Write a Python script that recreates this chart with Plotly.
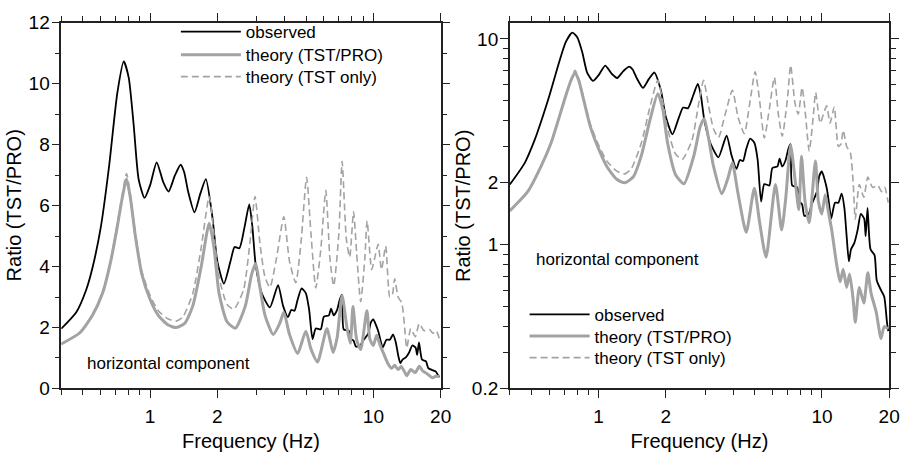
import math
import plotly.graph_objects as go

# ---------------- data ----------------
obs_f = [0.40, 0.467, 0.517, 0.552, 0.602, 0.655, 0.713, 0.762, 0.802, 0.844, 0.888, 0.944,
         1.0, 1.07, 1.145, 1.21, 1.29, 1.37, 1.42, 1.48, 1.58, 1.68, 1.777, 1.90, 2.0, 2.14,
         2.29, 2.39, 2.51, 2.65, 2.78, 2.87, 2.97, 3.16, 3.44, 3.74, 3.94, 4.14, 4.29, 4.43,
         4.58, 4.77, 4.98, 5.15, 5.34, 5.52, 5.81, 6.0, 6.32, 6.46, 6.64, 6.88, 7.07, 7.24,
         7.36, 7.75, 7.93, 8.15, 8.34, 8.72, 9.0, 9.49, 9.73, 9.99, 10.27, 10.52, 10.77, 11.0,
         11.44, 11.84, 12.25, 12.6, 12.9, 13.2, 13.5, 13.97, 14.45, 14.93, 15.45, 15.7, 16.0,
         16.5, 17.2, 17.6, 18.4, 19.0, 19.55, 19.8]
obs_v = [1.96, 2.5, 3.23, 3.96, 5.31, 7.29, 9.69, 10.73, 10.2, 8.65, 6.87, 6.25,
         6.67, 7.42, 6.77, 6.46, 6.98, 7.34, 7.1, 6.46, 5.78, 6.4, 6.87, 5.63, 4.17, 3.44,
         4.17, 4.64, 4.6, 5.31, 6.04, 5.31, 4.06, 3.13, 2.66, 3.39, 2.71, 2.34, 2.58, 2.55,
         2.92, 3.28, 3.13, 2.6, 1.62, 1.97, 1.94, 2.36, 2.4, 2.62, 2.4, 2.58, 2.92, 3.08,
         1.94, 1.9, 1.62, 1.57, 1.38, 1.41, 1.57, 1.81, 2.16, 2.27, 2.08, 1.87, 1.57, 1.34,
         1.6, 1.6, 1.77, 1.51, 1.1, 0.83, 0.95, 1.02, 1.18, 1.41, 1.34, 1.1, 1.51,
         0.95, 0.89, 0.67, 0.6, 0.56, 0.42, 0.38]

pro_f = [0.40, 0.483, 0.552, 0.612, 0.666, 0.713, 0.75, 0.784, 0.816, 0.859, 0.918, 1.0,
         1.088, 1.205, 1.31, 1.43, 1.553, 1.69, 1.84, 1.935, 2.036, 2.21, 2.41, 2.67, 2.85,
         2.97, 3.1, 3.27, 3.56, 3.81, 3.97, 4.21, 4.58, 4.98, 5.25, 5.62, 6.19, 6.6, 6.88,
         7.24, 7.63, 7.88, 8.1, 8.41, 8.77, 9.35, 9.64, 9.99, 10.34, 10.7, 11.06, 11.64,
         12.06, 12.45, 12.9, 13.3, 13.8, 14.1, 14.7, 15.4, 16.05, 16.6, 17.5, 18.4, 19.0, 19.8]
pro_v = [1.46, 1.82, 2.4, 3.12, 4.17, 5.31, 6.25, 6.87, 6.25, 5.0, 3.75, 2.92,
         2.4, 2.08, 2.0, 2.14, 2.71, 3.96, 5.42, 4.58, 3.12, 2.19, 1.98, 2.71, 3.75,
         4.1, 3.33, 2.4, 1.77, 2.14, 2.5, 1.77, 1.15, 1.88, 1.3, 0.87, 1.96, 1.18, 1.67,
         3.05, 1.94, 1.48, 2.69, 1.6, 1.28, 2.55, 1.62, 1.41, 1.75, 1.43, 1.18, 0.8,
         0.66, 0.76, 0.62, 0.72, 0.54, 0.42, 0.62, 0.52, 0.73, 0.58, 0.47, 0.35, 0.40, 0.39]

tst_f = [0.40, 0.483, 0.552, 0.612, 0.666, 0.713, 0.75, 0.784, 0.816, 0.859, 0.918, 1.0,
         1.088, 1.205, 1.31, 1.40, 1.553, 1.69, 1.84, 1.935, 2.036, 2.21, 2.37, 2.62, 2.80,
         2.95, 3.1, 3.27, 3.44, 3.68, 3.97, 4.21, 4.49, 4.74, 5.02, 5.25, 5.52, 5.81, 6.12,
         6.39, 6.64, 7.0, 7.24, 7.57, 7.83, 8.15, 8.41, 8.77, 9.15, 9.37, 9.82, 10.15, 10.5,
         10.87, 11.35, 11.84, 12.16, 12.45, 12.9, 13.4, 13.8, 14.1, 14.7, 15.4, 16.05, 16.85,
         17.8, 18.5, 19.1, 19.8]
tst_v = [1.46, 1.82, 2.42, 3.15, 4.2, 5.4, 6.35, 7.05, 6.35, 5.1, 3.85, 3.05,
         2.55, 2.28, 2.21, 2.34, 3.12, 4.58, 6.3, 5.0, 3.65, 2.76, 2.6, 3.23, 4.79,
         6.3, 4.79, 3.65, 3.32, 4.27, 5.63, 4.17, 3.47, 4.79, 6.93, 5.1, 3.3, 4.55, 6.5,
         4.24, 3.37, 5.07, 7.45, 4.88, 4.31, 5.8, 4.45, 2.85, 4.24, 5.5, 3.9, 4.3, 4.73,
         3.9, 4.67, 3.0, 3.08, 3.6, 3.0, 2.8, 2.0, 1.33, 1.96, 1.7, 2.13, 1.9,
         1.94, 1.81, 1.9, 1.6]

x_tickvals = [1, 2, 10, 20]
x_minor = [0.4, 0.5, 0.6, 0.7, 0.8, 0.9, 3, 4, 5, 6, 7, 8, 9]
yl_tickvals = [0, 2, 4, 6, 8, 10, 12]
yl_minor = [1, 3, 5, 7, 9, 11]
yr_tickvals = [0.2, 1, 2, 10]
yr_minor = [0.3, 0.4, 0.5, 0.6, 0.7, 0.8, 0.9, 3, 4, 5, 6, 7, 8, 9]

names = ["observed", "theory (TST/PRO)", "theory (TST only)"]
ytitle = "Ratio (TST/PRO)"
xtitle = "Frequency (Hz)"
panel_note = "horizontal component"

GRAY = "#a3a3a3"
FONT = "Liberation Sans"
W, H = 914, 457

fig = go.Figure()

def add_set(xa, ya, legs):
    fig.add_trace(go.Scatter(x=obs_f, y=obs_v, mode="lines", name=names[0],
                             line=dict(color="black", width=1.8, shape="spline", smoothing=0.6),
                             xaxis=xa, yaxis=ya, legend=legs[0]))
    fig.add_trace(go.Scatter(x=pro_f, y=pro_v, mode="lines", name=names[1],
                             line=dict(color=GRAY, width=3, shape="spline", smoothing=0.6),
                             xaxis=xa, yaxis=ya, legend=legs[1]))
    fig.add_trace(go.Scatter(x=tst_f, y=tst_v, mode="lines", name=names[2],
                             line=dict(color=GRAY, width=1.6, dash="7px,4px", shape="spline", smoothing=0.6),
                             xaxis=xa, yaxis=ya, legend=legs[2]))

add_set("x", "y", ["legend", "legend2", "legend3"])
add_set("x2", "y2", ["legend4", "legend5", "legend6"])

ydom = [(H - 396.7) / H, (H - 13.3) / H]

axis_common = dict(showline=True, linecolor="#222", linewidth=1.5, mirror="ticks",
                   ticks="outside", ticklen=8, tickwidth=1.3, tickcolor="#222",
                   showgrid=False, zeroline=False,
                   tickfont=dict(family=FONT, size=19, color="black"))

minor_common = dict(tickmode="array", ticks="outside", ticklen=5, tickwidth=1.3,
                    tickcolor="#222", showgrid=False)

xr = [math.log10(0.4), math.log10(20)]
xaxis_common = dict(axis_common, type="log", range=xr, tickmode="array",
                    tickvals=x_tickvals, ticktext=[str(v) for v in x_tickvals],
                    ticklabelstandoff=2,
                    minor=dict(minor_common, tickvals=x_minor),
                    title=dict(text=xtitle, font=dict(family=FONT, size=20, color="black"),
                               standoff=8))

def legend_at(xpx, ypx):
    # empirical correction for plotly's legend placement
    p = (ypx - 10.2) / 0.954
    return dict(x=xpx / W, y=1 - p / H, xanchor="left", yanchor="middle",
                bgcolor="rgba(0,0,0,0)", borderwidth=0, itemwidth=60,
                font=dict(family=FONT, size=17, color="black"))

leg_left_x = 178
leg_right_x = 531
fig.update_layout(
    width=W, height=H, margin=dict(l=0, r=0, t=0, b=0),
    paper_bgcolor="white", plot_bgcolor="white", showlegend=True,
    xaxis=dict(xaxis_common, domain=[62 / W, 446 / W], anchor="y"),
    xaxis2=dict(xaxis_common, domain=[516 / W, 900 / W], anchor="y2"),
    yaxis=dict(axis_common, domain=ydom, anchor="x", range=[0, 12], tickmode="array",
               tickvals=yl_tickvals, ticklabelstandoff=-2,
               minor=dict(minor_common, tickvals=yl_minor)),
    yaxis2=dict(axis_common, domain=ydom, anchor="x2", type="log",
                range=[math.log10(0.2), math.log10(12)], tickmode="array",
                tickvals=yr_tickvals, ticktext=[str(v) for v in yr_tickvals],
                ticklabelstandoff=-2,
                minor=dict(minor_common, tickvals=yr_minor)),
    legend=legend_at(leg_left_x, 32.3),
    legend2=legend_at(leg_left_x, 55.5),
    legend3=legend_at(leg_left_x, 77.3),
    legend4=legend_at(leg_right_x, 315),
    legend5=legend_at(leg_right_x, 336.7),
    legend6=legend_at(leg_right_x, 358.3),
    annotations=[
        dict(text=ytitle, xref="paper", yref="paper", x=14 / W, y=1 - 205 / H,
             xanchor="center", yanchor="middle", textangle=-90, showarrow=False,
             font=dict(family=FONT, size=20, color="black")),
        dict(text=ytitle, xref="paper", yref="paper", x=468 / W, y=1 - 205 / H,
             xanchor="center", yanchor="middle", textangle=-90, showarrow=False,
             font=dict(family=FONT, size=20, color="black")),
        dict(text=panel_note, xref="x domain", yref="y domain",
             x=(86 - 62) / 384, y=(396.7 - 371) / 383.4, xanchor="left", yanchor="middle",
             showarrow=False, font=dict(family=FONT, size=17, color="black")),
        dict(text=panel_note, xref="x2 domain", yref="y2 domain",
             x=(540 - 516) / 384, y=(396.7 - 261) / 383.4, xanchor="left", yanchor="middle",
             showarrow=False, font=dict(family=FONT, size=17, color="black")),
    ],
)

fig.write_html("out.html")
